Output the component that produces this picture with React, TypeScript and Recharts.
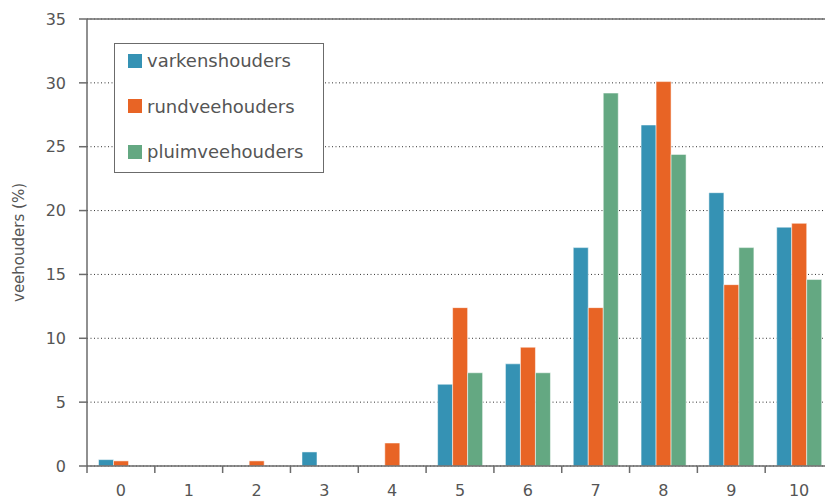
import { BarChart, Bar, XAxis, YAxis, CartesianGrid, ReferenceLine, Legend } from "recharts";

const scores = ["0", "1", "2", "3", "4", "5", "6", "7", "8", "9", "10"];
const varkenshouders = [0.5, 0, 0, 1.1, 0, 6.4, 8.0, 17.1, 26.7, 21.4, 18.7];
const rundveehouders = [0.4, 0, 0.4, 0, 1.8, 12.4, 9.3, 12.4, 30.1, 14.2, 19.0];
const pluimveehouders = [0, 0, 0, 0, 0, 7.3, 7.3, 29.2, 24.4, 17.1, 14.6];
const yTicks = [0, 5, 10, 15, 20, 25, 30, 35];

const series = [
  { key: "varkenshouders", color: "#3592b4" },
  { key: "rundveehouders", color: "#e86425" },
  { key: "pluimveehouders", color: "#64a882" },
];

const data = scores.map((score, i) => ({
  score,
  varkenshouders: varkenshouders[i],
  rundveehouders: rundveehouders[i],
  pluimveehouders: pluimveehouders[i],
}));

const FONT = "'DejaVu Sans', sans-serif";
const AXIS = "#6b6b6b";
const TEXT = "#555555";

// ticks sit on the category boundaries, labels in the middle
function ScoreTick(props: any) {
  const { x, y, payload } = props;
  const half = 67.8 / 2;
  return (
    <g>
      <line x1={x - half} y1={y - 8} x2={x - half} y2={y - 1} stroke={AXIS} strokeWidth={1.5} />
      <text x={x} y={y + 22} textAnchor="middle" fill={TEXT} fontSize={16} fontFamily={FONT}>
        {payload.value}
      </text>
    </g>
  );
}

function LegendBox() {
  return (
    <div
      style={{
        position: "relative",
        width: 210,
        height: 130,
        boxSizing: "border-box",
        border: "1.5px solid #6b6b6b",
        background: "#fff",
        fontFamily: FONT,
        fontSize: 18,
        color: TEXT,
      }}
    >
      {series.map((s, i) => (
        <div
          key={s.key}
          style={{
            position: "absolute",
            left: 13,
            top: 4.5 + 45.5 * i,
            height: 24,
            display: "flex",
            alignItems: "center",
            whiteSpace: "nowrap",
          }}
        >
          <span style={{ width: 14, height: 14, background: s.color, marginRight: 5, display: "inline-block" }} />
          <span>{s.key}</span>
        </div>
      ))}
    </div>
  );
}

export default function App() {
  return (
    <div style={{ position: "fixed", left: 0, top: 0, width: 825, height: 500, overflow: "hidden", background: "#fff" }}>
      <BarChart
        width={840}
        height={500}
        data={data}
        margin={{ top: 19, right: 7, left: 0, bottom: 0 }}
        barCategoryGap="17%"
        barGap={0}
      >
        <CartesianGrid vertical={false} stroke="#333" strokeDasharray="1 2.5" />
        <XAxis
          dataKey="score"
          height={34}
          tickLine={false}
          axisLine={{ stroke: AXIS, strokeWidth: 1.5 }}
          tick={<ScoreTick />}
          interval={0}
        />
        <YAxis
          width={87}
          domain={[0, 35]}
          ticks={yTicks}
          interval={0}
          tickSize={8}
          tickMargin={13}
          axisLine={{ stroke: AXIS, strokeWidth: 1.5 }}
          tickLine={{ stroke: AXIS, strokeWidth: 1.5 }}
          tick={{ fill: TEXT, fontSize: 16, fontFamily: FONT }}
          label={{
            value: "veehouders (%)",
            angle: -90,
            position: "center",
            dx: -25,
            fill: TEXT,
            fontSize: 15,
            fontFamily: FONT,
          }}
        />
        <ReferenceLine y={35} stroke={AXIS} strokeWidth={1.5} />
        <Legend
          layout="horizontal"
          verticalAlign="middle"
          align="center"
          content={() => <LegendBox />}
          wrapperStyle={{ left: 114, top: 43, width: 210, height: 130 }}
        />
        {series.map((s) => (
          <Bar
            key={s.key}
            dataKey={s.key}
            fill={s.color}
            stroke="#ffffff"
            strokeOpacity={0.5}
            strokeWidth={1}
            isAnimationActive={false}
          />
        ))}
      </BarChart>
    </div>
  );
}
